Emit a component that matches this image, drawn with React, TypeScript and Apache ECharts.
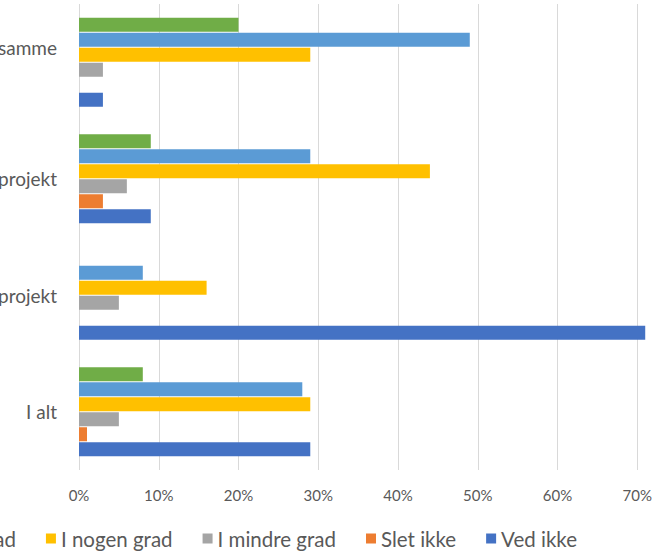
import React, { useEffect, useRef } from "react";
import * as echarts from "echarts";

const categories = ["samme", "projekt", "projekt", "I alt"];
const seriesNames = ["I meget høj grad", "I høj grad", "I nogen grad", "I mindre grad", "Slet ikke", "Ved ikke"];
const colors = ["#70AD47", "#5B9BD5", "#FFC000", "#A5A5A5", "#ED7D31", "#4472C4"];
const megetHoejGrad = [20, 9, 0, 8];
const hoejGrad = [49, 29, 8, 28];
const nogenGrad = [29, 44, 16, 29];
const mindreGrad = [3, 6, 5, 5];
const sletIkke = [0, 3, 0, 1];
const vedIkke = [3, 9, 71, 29];
const xTicks = [0, 10, 20, 30, 40, 50, 60, 70, 80];

const seriesValues = [megetHoejGrad, hoejGrad, nogenGrad, mindreGrad, sletIkke, vedIkke];

const OFF_LEFT = 300;
const OFF_RIGHT = 100;
const FONT = "Lato, 'Open Sans', sans-serif";

export default function App() {
  const ref = useRef<HTMLDivElement>(null);
  useEffect(() => {
    if (!ref.current) return;
    const chart = echarts.init(ref.current, undefined, { renderer: "svg" });
    chart.setOption({
      animation: false,
      backgroundColor: "#ffffff",
      textStyle: { fontFamily: FONT },
      grid: { left: 79 + OFF_LEFT, right: OFF_RIGHT + 664 - 717, top: 4, bottom: 82, containLabel: false },
      legend: {
        right: OFF_RIGHT + 82,
        top: 523,
        itemWidth: 10,
        itemHeight: 10,
        itemGap: 30,
        icon: "rect",
        data: seriesNames,
        textStyle: { color: "#595959", fontSize: 20.5, fontFamily: FONT },
      },
      xAxis: {
        type: "value",
        min: xTicks[0],
        max: xTicks[xTicks.length - 1],
        interval: 10,
        axisLine: { show: false },
        axisTick: { show: false },
        splitLine: { lineStyle: { color: "#d9d9d9", width: 1 } },
        axisLabel: { formatter: "{value}%", color: "#595959", fontSize: 15, margin: 17, fontFamily: FONT },
      },
      yAxis: {
        type: "category",
        inverse: true,
        data: categories.map((c, i) =>
          i === 0 ? { value: c, textStyle: { verticalAlign: "bottom", lineHeight: 30 } } : c
        ),
        axisLine: { show: false },
        axisTick: { show: false },
        axisLabel: { color: "#595959", fontSize: 19, margin: 22, fontFamily: FONT },
      },
      series: seriesNames.map((name, i) => ({
        name,
        type: "bar",
        data: seriesValues[i],
        itemStyle: { color: colors[i] },
        barGap: "7%",
        barCategoryGap: "23.6%",
      })),
    });
    return () => chart.dispose();
  }, []);
  return (
    <div
      ref={ref}
      style={{
        position: "fixed",
        left: -OFF_LEFT,
        top: 0,
        width: 664 + OFF_LEFT + OFF_RIGHT,
        height: 552,
      }}
    />
  );
}
